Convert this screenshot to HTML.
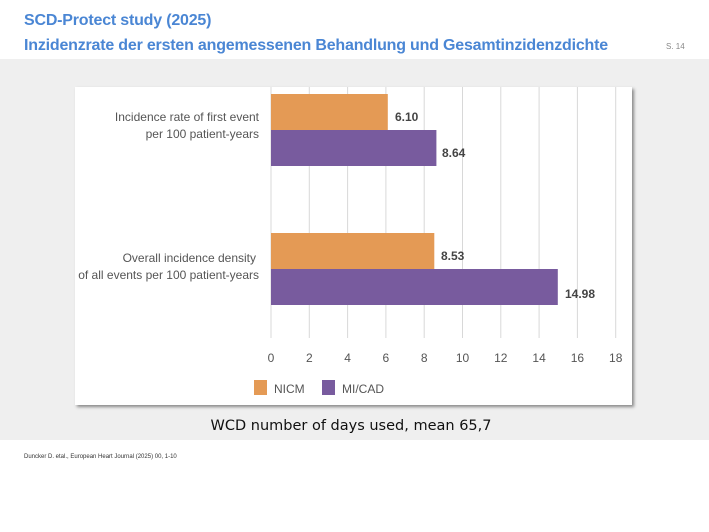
<!DOCTYPE html>
<html><head><style>
body{margin:0;width:709px;height:532px;background:#fff;position:relative;overflow:hidden;font-family:"Liberation Sans",sans-serif}
.t{position:absolute;left:24px;color:#4a86d4;font-weight:bold;font-size:16px;letter-spacing:-0.2px}
</style></head><body>
<div class="t" style="top:12px">SCD-Protect study (2025)</div>
<div class="t" style="top:37px">Inzidenzrate der ersten angemessenen Behandlung und Gesamtinzidenzdichte</div>
<div style="position:absolute;left:666px;top:42px;font-size:8px;color:#888">S. 14</div>
<div style="position:absolute;left:0;top:59px;width:709px;height:381px;background:#efefef"></div>
<div style="position:absolute;left:75px;top:87px;width:557px;height:318px;background:#fff;box-shadow:2px 2px 3px #888"></div>
<svg style="position:absolute;left:0;top:0" width="709" height="532">
<g stroke="#d8d8d8" stroke-width="1">
<line x1="271" y1="87" x2="271" y2="338"/><line x1="309.3" y1="87" x2="309.3" y2="338"/><line x1="347.6" y1="87" x2="347.6" y2="338"/><line x1="385.9" y1="87" x2="385.9" y2="338"/><line x1="424.2" y1="87" x2="424.2" y2="338"/><line x1="462.5" y1="87" x2="462.5" y2="338"/><line x1="500.8" y1="87" x2="500.8" y2="338"/><line x1="539.1" y1="87" x2="539.1" y2="338"/><line x1="577.4" y1="87" x2="577.4" y2="338"/><line x1="615.7" y1="87" x2="615.7" y2="338"/>
</g>
<rect x="271" y="94" width="116.8" height="36" fill="#e49a55"/>
<rect x="271" y="130" width="165.4" height="36" fill="#785b9e"/>
<rect x="271" y="233" width="163.3" height="36" fill="#e49a55"/>
<rect x="271" y="269" width="286.8" height="36" fill="#785b9e"/>
<g font-family="Liberation Sans,sans-serif" font-size="12" fill="#444" font-weight="bold">
<text x="395" y="121">6.10</text><text x="442" y="157">8.64</text><text x="441" y="260">8.53</text><text x="565" y="298">14.98</text>
</g>
<g font-family="Liberation Sans,sans-serif" font-size="12" fill="#555" text-anchor="end">
<text x="259" y="121">Incidence rate of first event</text><text x="259" y="138">per 100 patient-years</text>
<text x="256" y="262">Overall incidence density</text><text x="259" y="279">of all events per 100 patient-years</text>
</g>
<g font-family="Liberation Sans,sans-serif" font-size="12" fill="#555" text-anchor="middle">
<text x="271" y="362">0</text><text x="309.3" y="362">2</text><text x="347.6" y="362">4</text><text x="385.9" y="362">6</text><text x="424.2" y="362">8</text><text x="462.5" y="362">10</text><text x="500.8" y="362">12</text><text x="539.1" y="362">14</text><text x="577.4" y="362">16</text><text x="615.7" y="362">18</text>
</g>
<rect x="254" y="380" width="13" height="15" fill="#e49a55"/>
<rect x="322" y="380" width="13" height="15" fill="#785b9e"/>
<g font-family="Liberation Sans,sans-serif" font-size="12" fill="#555"><text x="274" y="393">NICM</text><text x="342" y="393">MI/CAD</text></g>
<text x="351" y="430" text-anchor="middle" font-family="DejaVu Sans,sans-serif" font-size="14.5" fill="#111">WCD number of days used, mean 65,7</text>
<text x="24" y="458" font-family="Liberation Sans,sans-serif" font-size="6" fill="#333">Duncker D. etal., European Heart Journal (2025) 00, 1-10</text>
</svg>
</body></html>
